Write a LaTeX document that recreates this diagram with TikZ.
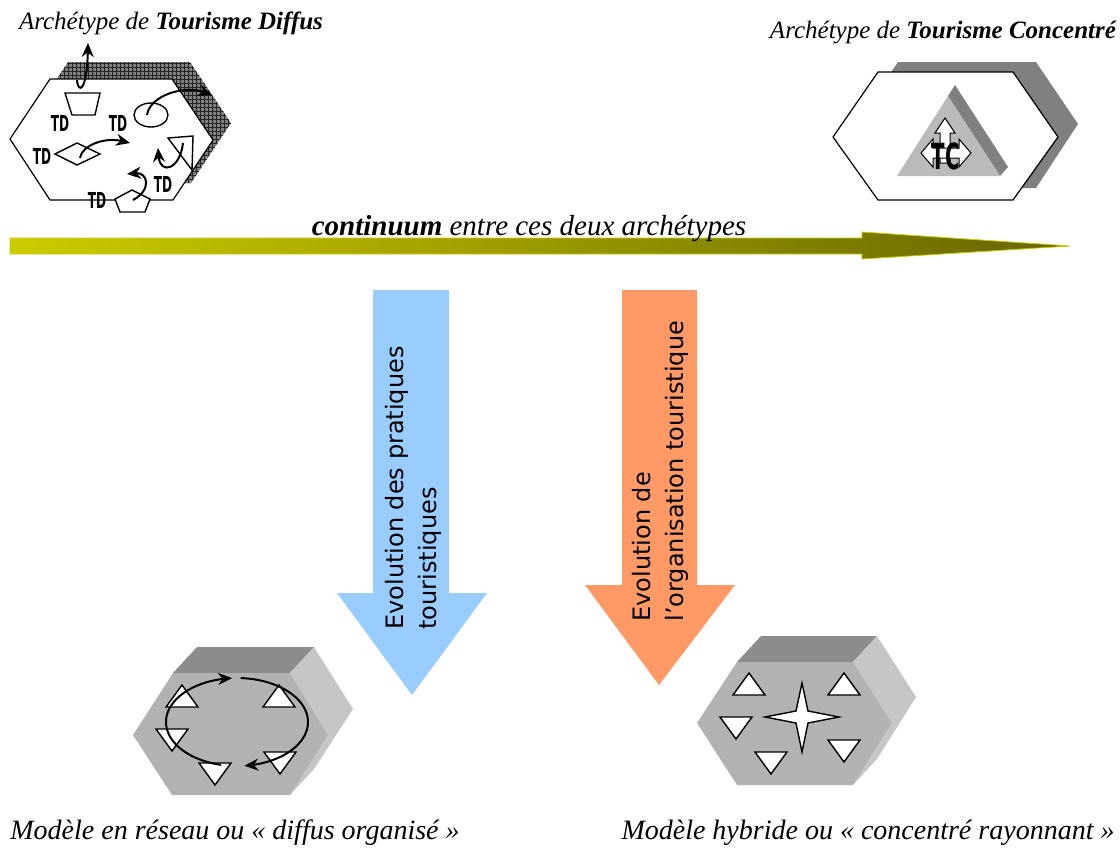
\documentclass[tikz,border=0pt]{standalone}
\usepackage{fontspec}
\setmainfont{Liberation Serif}
\setsansfont{DejaVu Sans}
\usepackage{tikz}
\usetikzlibrary{arrows.meta,patterns.meta}

\definecolor{olivel}{HTML}{CCCC00}
\definecolor{olived}{HTML}{666600}
\definecolor{bleu}{HTML}{99CCFF}
\definecolor{saumon}{HTML}{FF9966}
\definecolor{grisface}{HTML}{B2B2B2}
\definecolor{gristop}{HTML}{8C8C8C}
\definecolor{griscote}{HTML}{C6C6C6}

\newcommand{\tdmark}{\scalebox{0.55}[1]{\sffamily\bfseries TD}}

\tikzset{
  hexa/.style={draw=black, fill=white, line width=0.6pt},
  tri/.style={draw=black, fill=white, line width=0.7pt},
  fleche/.style={-{Stealth[length=7pt,width=6pt]}, line width=1pt},
  blanc/.style={fill=white, draw=black, line width=0.5pt},
  lab/.style={font=\itshape\fontsize{12.5}{15}\selectfont},
  basl/.style={font=\itshape\fontsize{14}{17}\selectfont},
  td/.style={font=\fontsize{11}{13}\selectfont, inner sep=0pt},
  evol/.style={font=\sffamily\fontsize{12}{16.5}\selectfont, rotate=90, anchor=west, align=left, inner sep=0pt}
}

\begin{document}
\begin{tikzpicture}[x=0.5pt,y=-0.5pt]
\useasboundingbox (0,0) rectangle (1120,847);

% archetype diffus
\fill[black!50] (28,122) -- (68,62) -- (190,62) -- (231,123) -- (191,183) -- (68,183) -- cycle;
\fill[pattern={Hatch[distance=2pt,line width=0.35pt]}, pattern color=black!85] (28,122) -- (68,62) -- (190,62) -- (231,123) -- (191,183) -- (68,183) -- cycle;
\draw[hexa] (10,139) -- (50,79) -- (172,79) -- (213,140) -- (173,200) -- (50,200) -- cycle;
\draw[tri] (65,93) -- (100,93) -- (95,115) -- (72,115) -- cycle;
\draw[tri] (151,115) ellipse[x radius=17, y radius=12];
\draw[tri] (55,154) -- (77,143) -- (100,154) -- (77,165) -- cycle;
\draw[tri] (168,138) -- (193,136) -- (192,170) -- cycle;
\draw[tri] (132,190) -- (150,199) -- (145,212) -- (120,212) -- (115,199) -- cycle;
\draw[fleche] (77,80) .. controls (78,94) and (87,92) .. (88,43);
\draw[fleche] (147,115) .. controls (150,95) and (185,85) .. (212,95);
\draw[fleche] (80,158) .. controls (82,145) and (105,137) .. (130,143);
\draw[fleche] (183,143) .. controls (180,170) and (160,175) .. (158,148);
\draw[fleche] (133,200) .. controls (152,190) and (148,172) .. (127,174);
\node[td] (td1) at (60,123) {\tdmark};
\node[td] (td2) at (118,123) {\tdmark};
\node[td] (td3) at (42,156) {\tdmark};
\node[td] (td4) at (163,184) {\tdmark};
\node[td] (td5) at (97,200) {\tdmark};
\node[lab, anchor=base] (titreD) at (171,29) {Archétype de \textbf{Tourisme Diffus}};

% archetype concentre
\fill[black!50] (853,127) -- (898,62) -- (1036,62) -- (1078,124) -- (1036,188) -- (898,188) -- cycle;
\draw[hexa] (833,137) -- (878,72) -- (1013,72) -- (1058,137) -- (1013,200) -- (878,200) -- cycle;
\fill[black!50] (948,96) -- (955,85) -- (1008,167) -- (1000,176) -- cycle;
\fill[black!27] (948,96) -- (897,176) -- (1000,176) -- cycle;
\draw[blanc] (940,163) -- (940,133) -- (935,133) -- (945,118) -- (955,133) -- (950,133) -- (950,163) -- cycle;
\draw[blanc] (933,148) -- (933,139) -- (921,153) -- (933,167) -- (933,158) -- (959,158) -- (959,167) -- (971,153) -- (959,139) -- (959,148) -- cycle;
\node[font=\fontsize{18}{20}\selectfont, inner sep=0pt] (tc) at (946,156) {\scalebox{0.55}[1]{\sffamily\bfseries TC}};
\node[lab, anchor=base] (titreC) at (943,38) {Archétype de \textbf{Tourisme Concentré}};

% continuum
\shade[left color=olivel, right color=olived, draw=olivel, line width=0.4pt] (10,238) -- (862,238) -- (862,232) -- (1070,246) -- (862,259) -- (862,254) -- (10,254) -- cycle;
\node[font=\itshape\fontsize{14.5}{16}\selectfont, anchor=base] (contin) at (529,235) {\textbf{continuum} entre ces deux archétypes};

% fleches d'evolution
\fill[bleu] (373,290) -- (449,290) -- (449,593) -- (487,593) -- (412,695) -- (337,593) -- (373,593) -- cycle;
\node[evol] (evolA) at (413,630) {Evolution des pratiques\\touristiques};
\fill[saumon] (622,290) -- (697,290) -- (697,585) -- (735,585) -- (659,685) -- (585,585) -- (622,585) -- cycle;
\node[evol] (evolB) at (660,622) {Evolution de\\l’organisation touristique};

% modele en reseau
\fill[gristop] (173,673) -- (197,647) -- (314,647) -- (290,673) -- cycle;
\fill[griscote] (290,673) -- (314,647) -- (353,709) -- (314,769) -- (290,795) -- (328,735) -- cycle;
\fill[grisface] (133,735) -- (173,673) -- (290,673) -- (328,735) -- (290,795) -- (172,795) -- cycle;
\foreach \x/\y in {182/696, 279/696}
  \draw[tri] (\x-16,\y+11) -- (\x+16,\y+11) -- (\x,\y-11) -- cycle;
\foreach \x/\y in {172/740, 280/763, 215/774}
  \draw[tri] (\x-16,\y-11) -- (\x+16,\y-11) -- (\x,\y+11) -- cycle;
\draw[fleche] plot[domain=103:266, samples=40, smooth] ({237+71*cos(\x)},{722+44*sin(\x)});
\draw[fleche] plot[domain=273:444, samples=40, smooth] ({237+71*cos(\x)},{722+44*sin(\x)});
\node[basl, anchor=base] (modA) at (235,839) {Modèle en réseau ou « diffus organisé »};

% modele hybride
\fill[gristop] (737,662) -- (761,636) -- (877,636) -- (853,662) -- cycle;
\fill[griscote] (853,662) -- (877,636) -- (916,697) -- (877,759) -- (853,785) -- (892,723) -- cycle;
\fill[grisface] (697,723) -- (737,662) -- (853,662) -- (892,723) -- (853,785) -- (737,785) -- cycle;
\foreach \x/\y in {749/684, 844/684}
  \draw[tri] (\x-16,\y+11) -- (\x+16,\y+11) -- (\x,\y-11) -- cycle;
\foreach \x/\y in {736/728, 771/763, 844/751}
  \draw[tri] (\x-16,\y-11) -- (\x+16,\y-11) -- (\x,\y+11) -- cycle;
\draw[tri] (765,717) -- (796,711) -- (802,683) -- (808,711) -- (839,717) -- (808,723) -- (802,752) -- (796,723) -- cycle;
\node[basl, anchor=base] (modB) at (868,839) {Modèle hybride ou « concentré rayonnant »};

\end{tikzpicture}
\end{document}
